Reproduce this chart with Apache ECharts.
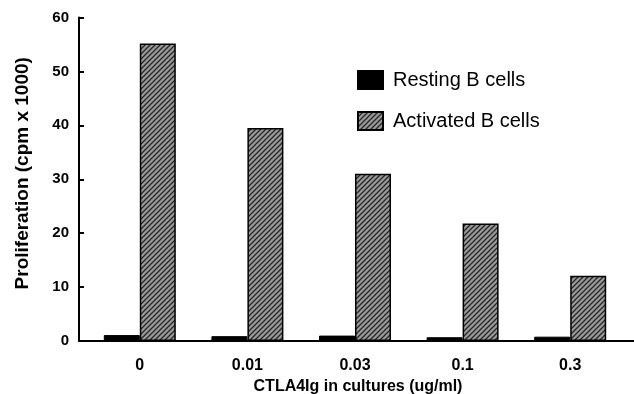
<!DOCTYPE html>
<html>
<head>
<meta charset="utf-8">
<script src="https://cdn.jsdelivr.net/npm/echarts@6/dist/echarts.min.js"></script>
<style>html,body{margin:0;padding:0;background:#fff;}#c{width:634px;height:394px;}</style>
</head>
<body>
<div id="c"></div>
<script>
const categories = ['0', '0.01', '0.03', '0.1', '0.3'];
const restingValues = [1.1, 0.9, 1.0, 0.7, 0.8];
const activatedValues = [55.2, 39.5, 31.0, 21.8, 12.1];
const yTicks = [0, 10, 20, 30, 40, 50, 60];
const seriesNames = ['Resting B cells', 'Activated B cells'];

function hatch() {
  const c = document.createElement('canvas');
  c.width = 5; c.height = 5;
  const g = c.getContext('2d');
  g.fillStyle = '#9a9a9a';
  g.fillRect(0, 0, 5, 5);
  g.strokeStyle = '#262626';
  g.lineWidth = 1.3;
  g.beginPath();
  g.moveTo(-1, 6); g.lineTo(6, -1);
  g.moveTo(-1, 1); g.lineTo(1, -1);
  g.moveTo(4, 6); g.lineTo(6, 4);
  g.stroke();
  return c;
}

const chart = echarts.init(document.getElementById('c'), null, {renderer: 'canvas'});
const font = 'Liberation Sans, Arial, sans-serif';
chart.setOption({
  animation: false,
  textStyle: {fontFamily: font},
  legend: {
    orient: 'vertical', left: 352, top: 65, icon: 'rect',
    itemWidth: 25, itemHeight: 18, itemGap: 21,
    textStyle: {fontSize: 20, color: '#000', fontFamily: font, padding: [0, 0, 0, 5]},
    data: seriesNames
  },
  grid: [
    {left: 86, right: 10, top: 17.5, bottom: 53, outerBoundsMode: 'none', containLabel: false},
    {left: 79, right: 0, top: 17.5, bottom: 53, outerBoundsMode: 'none', containLabel: false}
  ],
  xAxis: [
    {
      type: 'category', gridIndex: 0, data: categories,
      axisLine: {show: false}, axisTick: {show: false},
      axisLabel: {fontSize: 16, fontWeight: 'bold', color: '#000', margin: 17},
      name: 'CTLA4Ig in cultures (ug/ml)', nameLocation: 'middle', nameGap: 30,
      nameTextStyle: {fontSize: 16, fontWeight: 'bold', color: '#000', padding: [0, 0, 0, 6]}
    },
    {
      type: 'value', gridIndex: 1, min: 0, max: 1,
      axisLine: {show: true, lineStyle: {color: '#000', width: 2}},
      axisTick: {show: false}, axisLabel: {show: false}, splitLine: {show: false}
    }
  ],
  yAxis: [
    {
      type: 'value', gridIndex: 0, min: yTicks[0], max: yTicks[yTicks.length - 1], interval: 10,
      offset: 7,
      axisLine: {show: true, lineStyle: {color: '#000', width: 2}},
      axisTick: {show: true, inside: true, length: 5, lineStyle: {color: '#000', width: 2}},
      axisLabel: {fontSize: 15, fontWeight: 'bold', color: '#000', margin: 10},
      splitLine: {show: false},
      name: 'Proliferation (cpm x 1000)', nameLocation: 'middle', nameGap: 47,
      nameTextStyle: {fontSize: 19, fontWeight: 'bold', color: '#000', padding: [0, 0, 0, 12]}
    },
    {
      type: 'value', gridIndex: 1, show: false
    }
  ],
  series: [
    {
      name: seriesNames[0], type: 'bar', xAxisIndex: 0, yAxisIndex: 0,
      data: restingValues, barWidth: 36, barGap: '0%',
      itemStyle: {color: '#000', borderColor: '#000', borderWidth: 1}
    },
    {
      name: seriesNames[1], type: 'bar', xAxisIndex: 0, yAxisIndex: 0,
      data: activatedValues, barWidth: 36, barGap: '0%',
      itemStyle: {color: {image: hatch(), repeat: 'repeat'}, borderColor: '#000', borderWidth: 1.5}
    }
  ]
});
</script>
</body>
</html>
